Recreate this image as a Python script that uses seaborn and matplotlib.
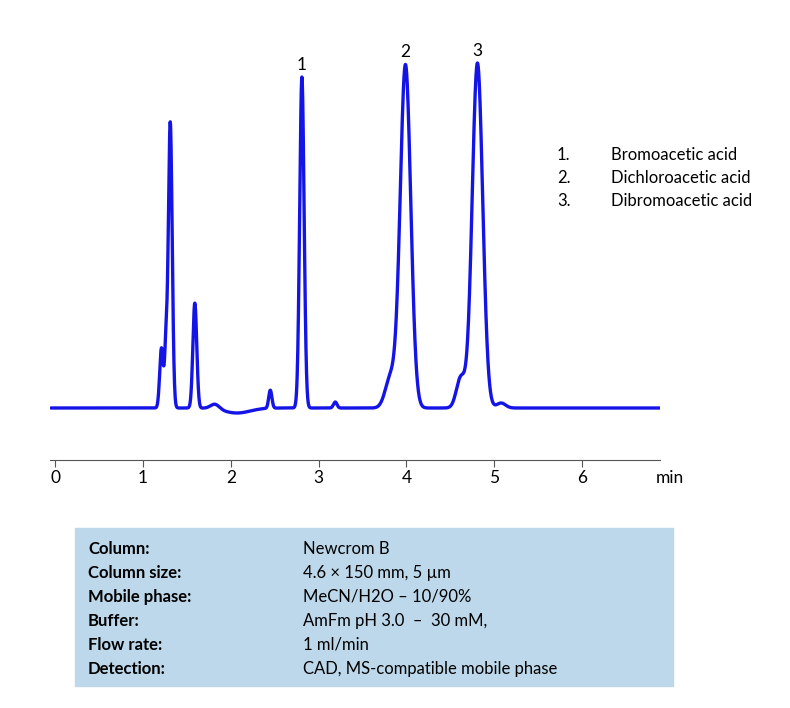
import numpy as np
import pandas as pd
import matplotlib
matplotlib.use("Agg")
import matplotlib.pyplot as plt
import seaborn as sns
from matplotlib.patches import Rectangle

# peak table: retention time (min), height, width (sigma)
peak_time = [1.21, 1.26, 1.31, 1.59, 1.82, 2.07, 2.45, 2.81, 3.19, 3.82, 3.99, 4.62, 4.81, 5.08]
peak_height = [60, 55, 286, 105, 5, -5, 18, 331, 6, 30, 343, 30, 345, 5]
peak_width = [0.020, 0.015, 0.022, 0.022, 0.05, 0.15, 0.018, 0.025, 0.02, 0.06, 0.06, 0.05, 0.06, 0.05]

label_num = ["1", "2", "3"]
label_time = [2.81, 3.99, 4.81]
compounds = ["Bromoacetic acid", "Dichloroacetic acid", "Dibromoacetic acid"]

x_ticks = [0, 1, 2, 3, 4, 5, 6]

info_keys = ["Column:", "Column size:", "Mobile phase:", "Buffer:", "Flow rate:", "Detection:"]
info_vals = ["Newcrom B", "4.6 × 150 mm, 5 µm", "MeCN/H2O – 10/90%",
             "AmFm pH 3.0  –  30 mM,", "1 ml/min", "CAD, MS-compatible mobile phase"]

t = np.linspace(-0.05, 6.9, 3000)
signal = np.zeros_like(t)
for c, h, w in zip(peak_time, peak_height, peak_width):
    signal += h * np.exp(-0.5 * ((t - c) / w) ** 2)
df = pd.DataFrame({"time": t, "signal": signal})

sns.set_style("white")
plt.rcParams["font.family"] = ["Lato", "DejaVu Sans"]
plt.rcParams["text.color"] = "black"

fig = plt.figure(figsize=(7.9, 7.08), dpi=100)
ax = fig.add_axes([50 / 790, 1 - 460 / 708, 610 / 790, 420 / 708])
sns.lineplot(data=df, x="time", y="signal", color="#1414e6", lw=2.4, ax=ax)
ax.set_xlim(-0.06, 6.89)
ax.set_ylim(-52, 368)
for s in ["top", "right", "left"]:
    ax.spines[s].set_visible(False)
ax.spines["bottom"].set_color("#555555")
ax.set_yticks([])
ax.set_xticks(x_ticks)
ax.set_xticklabels([str(v) for v in x_ticks], fontsize=12.5)
ax.tick_params(axis="x", direction="out", length=5, color="#555555", bottom=True,
               labelcolor="black", pad=2)
ax.set_xlabel("")
ax.set_ylabel("")
fig.text(670 / 790, 1 - 478 / 708, "min", fontsize=12.5, ha="center", va="center")

for n, tm in zip(label_num, label_time):
    idx = np.argmin(np.abs(t - tm))
    top = signal[idx - 20:idx + 20].max()
    ax.text(tm, top + 4, n, ha="center", va="bottom", fontsize=12.5)

for i, name in enumerate(compounds):
    y = 1 - (155 + 23 * i) / 708
    fig.text(557 / 790, y, f"{i + 1}.", fontsize=12, va="center")
    fig.text(611 / 790, y, name, fontsize=12, va="center")

fig.patches.append(Rectangle((75 / 790, 1 - 686 / 708), 598 / 790, 158 / 708,
                             transform=fig.transFigure, color="#bcd8ea", zorder=0))
for i, (k, v) in enumerate(zip(info_keys, info_vals)):
    y = 1 - (549 + 24 * i) / 708
    fig.text(88 / 790, y, k, fontsize=12, fontweight="bold", va="center")
    fig.text(303 / 790, y, v, fontsize=12, va="center")

fig.savefig("out.png", dpi=100)
